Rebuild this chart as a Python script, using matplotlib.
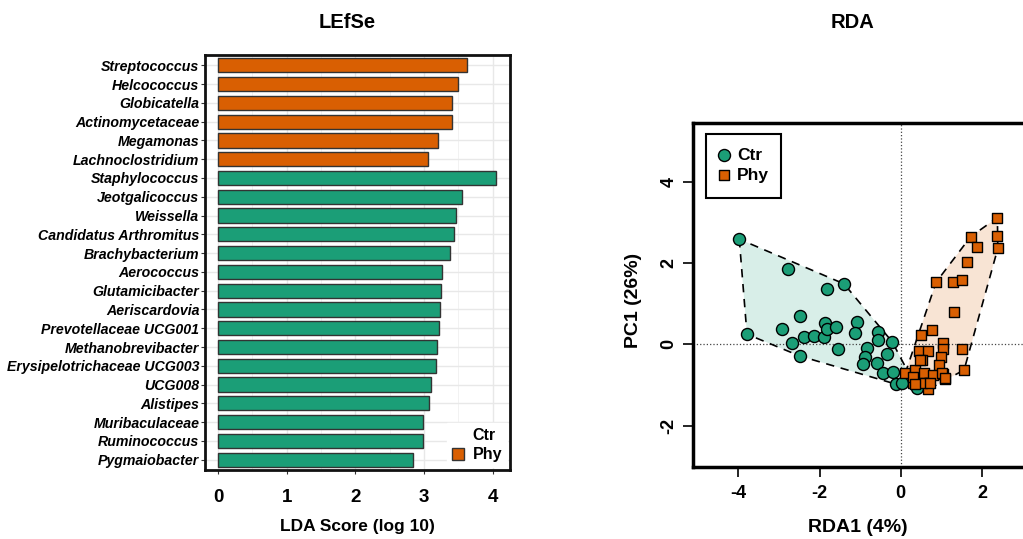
import matplotlib.pyplot as plt
from matplotlib.lines import Line2D
from matplotlib.patches import Polygon, Rectangle

plt.rcParams['font.family'] = ['Liberation Sans', 'DejaVu Sans']
plt.rcParams['font.weight'] = 'bold'
plt.rcParams['axes.unicode_minus'] = False

GREEN = '#1B9E77'
ORANGE = '#D95F02'

# LEfSe
taxa = ['Streptococcus', 'Helcococcus', 'Globicatella', 'Actinomycetaceae',
        'Megamonas', 'Lachnoclostridium', 'Staphylococcus', 'Jeotgalicoccus',
        'Weissella', 'Candidatus Arthromitus', 'Brachybacterium', 'Aerococcus',
        'Glutamicibacter', 'Aeriscardovia', 'Prevotellaceae UCG001',
        'Methanobrevibacter', 'Erysipelotrichaceae UCG003', 'UCG008',
        'Alistipes', 'Muribaculaceae', 'Ruminococcus', 'Pygmaiobacter']
lda = [3.62, 3.50, 3.41, 3.40, 3.20, 3.05, 4.05, 3.55, 3.46, 3.44, 3.38,
       3.26, 3.25, 3.23, 3.22, 3.19, 3.18, 3.10, 3.07, 2.99, 2.99, 2.84]
group = ['Phy'] * 6 + ['Ctr'] * 16

# RDA
ctr_x = [-3.98, -3.79, -2.79, -1.82, -1.40, -2.48, -2.92, -2.67, -2.38, -2.14,
         -1.89, -1.87, -1.82, -1.59, -1.07, -1.13, -0.55, -0.57, -0.21, -1.55,
         -2.48, -0.83, -0.88, -0.92, -0.59, -0.35, -0.43, -0.20, -0.12, 0.02, 0.39]
ctr_y = [2.59, 0.25, 1.85, 1.36, 1.49, 0.71, 0.38, 0.04, 0.17, 0.20,
         0.17, 0.53, 0.37, 0.43, 0.56, 0.27, 0.31, 0.11, 0.06, -0.12,
         -0.29, -0.10, -0.32, -0.49, -0.45, -0.24, -0.71, -0.67, -0.98, -0.96, -1.08]
phy_x = [2.38, 2.37, 2.39, 1.72, 1.87, 1.62, 0.87, 1.28, 1.50, 1.30, 0.76, 0.49,
         1.52, 1.56, 1.03, 1.05, 0.46, 0.68, 0.99, 0.52, 0.95, 0.11, 0.35, 0.56,
         1.03, 1.09, 0.31, 0.70, 0.68, 0.52, 0.80, 0.31, 0.35, 0.72, 1.01, 1.09, 0.48]
phy_y = [3.12, 2.67, 2.36, 2.65, 2.40, 2.02, 1.53, 1.54, 1.58, 0.80, 0.35, 0.23,
         -0.12, -0.63, 0.04, -0.12, -0.16, -0.16, -0.30, -0.39, -0.51, -0.71, -0.63, -0.71,
         -0.73, -0.86, -0.96, -0.96, -1.11, -0.95, -0.76, -0.80, -0.98, -0.96, -0.71, -0.84, -0.39]


def hull(xs, ys):
    # monotone chain convex hull
    pts = sorted(set(zip(xs, ys)))

    def cross(o, a, b):
        return (a[0] - o[0]) * (b[1] - o[1]) - (a[1] - o[1]) * (b[0] - o[0])

    lower, upper = [], []
    for p in pts:
        while len(lower) >= 2 and cross(lower[-2], lower[-1], p) <= 0:
            lower.pop()
        lower.append(p)
    for p in reversed(pts):
        while len(upper) >= 2 and cross(upper[-2], upper[-1], p) <= 0:
            upper.pop()
        upper.append(p)
    return lower[:-1] + upper[:-1]


W, H = 1023, 539
fig = plt.figure(figsize=(W / 100, H / 100), dpi=100)

# ---- left panel ----
ax1 = fig.add_axes([205 / W, 1 - 470 / H, 305 / W, 415 / H])
ypos = list(range(len(taxa)))
colors = [ORANGE if g == 'Phy' else GREEN for g in group]
ax1.barh(ypos, lda, height=0.76, color=colors, edgecolor='#333333', linewidth=1, zorder=3)
ax1.set_ylim(len(taxa) - 0.45, -0.55)
ax1.set_xlim(-0.19, 4.25)
ax1.set_xticks([0, 1, 2, 3, 4])
ax1.set_xticks([0.5, 1.5, 2.5, 3.5], minor=True)
ax1.set_yticks(ypos)
ax1.set_yticklabels(taxa, fontsize=10.2, fontstyle='italic', fontweight='bold')
ax1.tick_params(axis='x', labelsize=13.5, length=3, color='#333333', pad=11)
ax1.tick_params(axis='y', length=3, color='#333333', pad=1)
ax1.tick_params(which='minor', length=0)
ax1.grid(True, which='major', color='#e8e8e8', linewidth=1, zorder=0)
ax1.grid(True, which='minor', axis='x', color='#f0f0f0', linewidth=0.6, zorder=0)
for s in ax1.spines.values():
    s.set_linewidth(2)
    s.set_color('#111111')

leg_handles = [Line2D([], [], marker='s', linestyle='none', markersize=0, color='white'),
               Line2D([], [], marker='s', linestyle='none', markersize=8,
                      markerfacecolor=ORANGE, markeredgecolor='#333333')]
leg1 = ax1.legend(leg_handles, ['Ctr', 'Phy'], loc='lower right',
                  bbox_to_anchor=(507 / W, 1 - 467 / H), bbox_transform=fig.transFigure,
                  frameon=True, fancybox=False, edgecolor='white', framealpha=1,
                  fontsize=11.5, handlelength=0.8, handletextpad=0.5,
                  labelspacing=0.25, borderpad=0.3, borderaxespad=0)
leg1.set_zorder(2.5)

fig.text(347 / W, 1 - 22 / H, 'LEfSe', ha='center', va='center', fontsize=14.5, fontweight='bold')
fig.text(357 / W, 1 - 527 / H, 'LDA Score (log 10)', ha='center', va='center', fontsize=12.5, fontweight='bold')

# ---- right panel ----
ax2 = fig.add_axes([693 / W, 1 - 467 / H, 360 / W, 344 / H])
ax2.set_xlim(-5.12, 3.75)
ax2.set_ylim(-3.02, 5.45)

for xs, ys, c in [(ctr_x, ctr_y, GREEN), (phy_x, phy_y, ORANGE)]:
    hp = hull(xs, ys)
    ax2.add_patch(Polygon(hp, closed=True, facecolor=c, alpha=0.17, edgecolor='none', zorder=1))
    ax2.add_patch(Polygon(hp, closed=True, facecolor='none', edgecolor='black',
                          linestyle=(0, (5, 4)), linewidth=1.2, zorder=2))

ax2.axvline(0, color='#444444', linestyle=':', linewidth=0.9, zorder=1.5)
ax2.axhline(0, color='#444444', linestyle=':', linewidth=0.9, zorder=1.5)

ax2.scatter(ctr_x, ctr_y, s=75, marker='o', color=GREEN, edgecolor='black', linewidth=1, zorder=3, label='Ctr')
ax2.scatter(phy_x, phy_y, s=60, marker='s', color=ORANGE, edgecolor='black', linewidth=1, zorder=4, label='Phy')

ax2.set_xticks([-4, -2, 0, 2])
ax2.set_yticks([-2, 0, 2, 4])
ax2.tick_params(axis='both', labelsize=13, length=7, width=1.2, pad=6)
ax2.tick_params(axis='y', pad=4)
for lab in ax2.get_yticklabels():
    lab.set_rotation(90)
    lab.set_va('center')
for s in ax2.spines.values():
    s.set_linewidth(2.5)

ax2.legend(loc='upper left', bbox_to_anchor=(704 / W, 1 - 134 / H), bbox_transform=fig.transFigure,
           frameon=False, fontsize=12.5, handletextpad=0.4, borderpad=0.8, borderaxespad=0,
           labelspacing=0.25, handlelength=0.7)
fig.add_artist(Rectangle((706 / W, 1 - 198 / H), 75 / W, 64 / H, transform=fig.transFigure,
                         facecolor='none', edgecolor='black', linewidth=1.5))

fig.text(853 / W, 1 - 22 / H, 'RDA', ha='center', va='center', fontsize=14.5, fontweight='bold')
fig.text(858 / W, 1 - 528 / H, 'RDA1 (4%)', ha='center', va='center', fontsize=14, fontweight='bold')
fig.text(633 / W, 1 - 300 / H, 'PC1 (26%)', ha='center', va='center', rotation=90, fontsize=14, fontweight='bold')

fig.savefig('out.png', dpi=100)
